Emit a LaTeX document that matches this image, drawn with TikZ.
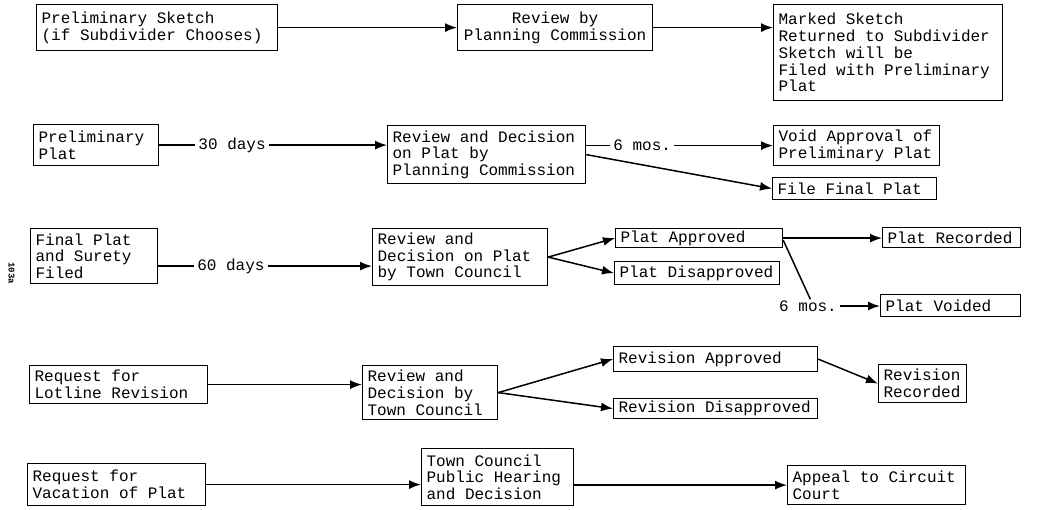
\documentclass[tikz,border=0pt]{standalone}
\usepackage{fontspec}
\setmonofont{Liberation Mono}
\usetikzlibrary{arrows.meta,shapes}
\tikzstyle{box}=[draw,line width=1.2pt,rectangle,anchor=north west,align=flush left,inner xsep=5pt,inner ysep=2pt,font=\ttfamily\fontsize{16}{16.7}\selectfont]
\tikzstyle{edge}=[draw,line width=1.5pt,-{Latex[length=12pt,width=9pt]}]
\tikzstyle{plain edge}=[draw,line width=1.5pt]
\tikzstyle{delay}=[fill=white,inner xsep=3pt,inner ysep=1pt,font=\ttfamily\fontsize{16}{16.7}\selectfont]
\begin{document}
\begin{tikzpicture}[x=1pt,y=-1pt]
    \useasboundingbox (0,0) rectangle (1044,509);
    % The boxes of the five procedures
    \foreach \pos/\name/\w/\h/\txt in {
        {(36,4)/A/231pt/46pt/{Preliminary Sketch\\(if Subdivider Chooses)}},
        {(773,4)/C/219pt/96pt/{Marked Sketch\\Returned to Subdivider\\Sketch will be\\Filed with Preliminary\\Plat}},
        {(33,124)/D/115pt/41pt/{Preliminary\\Plat}},
        {(387,125)/E/188pt/58pt/{Review and Decision\\on Plat by\\Planning Commission}},
        {(773,125)/Void/156pt/40pt/{Void Approval of\\Preliminary Plat}},
        {(772,177)/File/154pt/22pt/{File Final Plat}},
        {(30,228)/F/117pt/55pt/{Final Plat\\and Surety\\Filed}},
        {(372,228)/G/165pt/57pt/{Review and\\Decision on Plat\\by Town Council}},
        {(615,228)/PA/157pt/19pt/{Plat Approved}},
        {(614,261)/PD/155pt/23pt/{Plat Disapproved}},
        {(882,227)/PR/128pt/20pt/{Plat Recorded}},
        {(880,294)/PV/130pt/22pt/{Plat Voided}},
        {(29,365)/H/168pt/38pt/{Request for\\Lotline Revision}},
        {(362,365)/I/125pt/54pt/{Review and\\Decision by\\Town Council}},
        {(613,346)/RA/194pt/25pt/{Revision Approved}},
        {(613,398)/RD/194pt/20pt/{Revision Disapproved}},
        {(878,364)/RR/78pt/38pt/{Revision\\Recorded}},
        {(27,463)/J/168pt/42pt/{Request for\\Vacation of Plat}},
        {(421,448)/K/142pt/57pt/{Town Council\\Public Hearing\\and Decision}},
        {(787,465)/L/168pt/39pt/{Appeal to Circuit\\Court}}}
        \node[box,text width=\w,minimum height=\h] (\name) at \pos {\txt};
    \node[box,align=flush center,text width=185pt,minimum height=46pt] (B) at (457,4) {Review by\\Planning Commission};

    % Page number
    \node[rotate=-90,inner sep=0pt,font=\ttfamily\bfseries\fontsize{9}{9}\selectfont] (pageno) at (11.5,273) {103a};

    % Connect the boxes with arrows
    \foreach \source/\dest in {A/B,B/C,PA/PR,H/I,J/K}
        \path[edge] (\source.east) -- (\source.east -| \dest.west);
    \foreach \source/\dest in {E/File,G/PA,G/PD,I/RA,I/RD,RA/RR}
        \path[edge] (\source.east) -- (\dest.west);
    \path[edge] (K.east |- L.west) -- (L.west);

    % Arrows with time limits
    \path[edge] (D.east) -- node[delay,pos=0.32] {30 days} (D.east -| E.west);
    \path[edge] (E.east |- Void.west) -- node[delay,pos=0.3] {6 mos.} (Void.west);
    \path[edge] ([yshift=-10pt]F.east) -- node[delay,pos=0.34] {60 days} ([yshift=-10pt]F.east -| G.west);
    \node[delay,fill=none] (sixmo) at (808,306) {6 mos.};
    \path[plain edge] ([yshift=-2pt]PA.east) -- (sixmo.70);
    \path[edge] (sixmo.east) -- (sixmo.east -| PV.west);
\end{tikzpicture}
\end{document}
